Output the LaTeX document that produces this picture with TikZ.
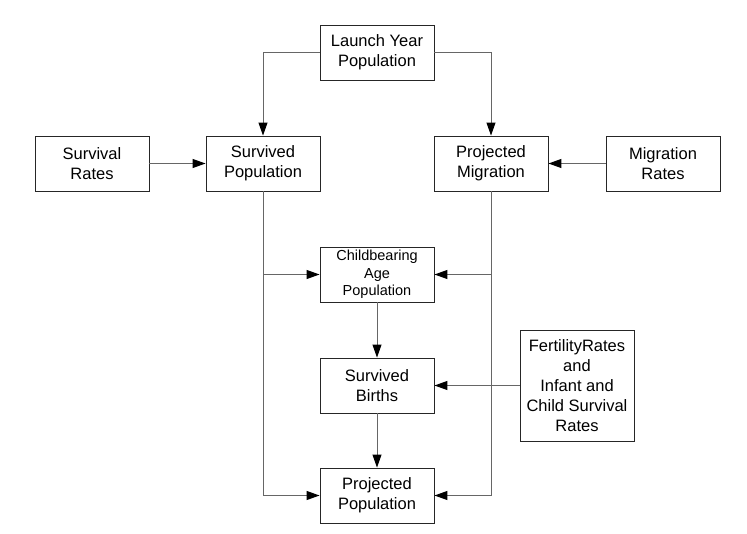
\documentclass[tikz,border=0pt]{standalone}
\usepackage{fontspec}
\setmainfont{Liberation Sans}
\usetikzlibrary{arrows.meta}
\begin{document}
\begin{tikzpicture}[x=1pt,y=-1pt,
  box/.style={draw=black!85,line width=0.9pt,minimum width=114pt,minimum height=55pt,inner sep=0pt,align=center,font=\fontsize{16.5}{20}\selectfont},
  arr/.style={draw=black!60,line width=1pt,-{Triangle[length=13pt,width=9pt,fill=black,color=black]}}]
\useasboundingbox (0,0) rectangle (747,533);
\node[box] (launch) at (377,52.5) {Launch Year\\Population};
\node[box] (survr) at (92,163.5) {Survival\\Rates};
\node[box] (survp) at (263,163.5) {Survived\\Population};
\node[box] (projm) at (491,163.5) {Projected\\Migration};
\node[box] (migr) at (663,163.5) {Migration\\Rates};
\node[box,font=\fontsize{14.5}{17.5}\selectfont] (child) at (377,274.5) {Childbearing\\Age\\Population};
\node[box] (births) at (377,385.5) {Survived\\Births};
\node[box] (projp) at (377,495.5) {Projected\\Population};
\node[box,minimum height=111pt] (fert) at (577,385.5) {FertilityRates\\and\\Infant and\\Child Survival\\Rates};
\draw[arr] (launch.west) -| (survp.north);
\draw[arr] (launch.east) -| (projm.north);
\draw[arr] (survr.east) -- (survp.west);
\draw[arr] (migr.west) -- (projm.east);
\draw[arr] (survp.south) |- (projp.west);
\draw[arr] (survp.south |- child.west) -- (child.west);
\draw[arr] (projm.south) |- (projp.east);
\draw[arr] (projm.south |- child.east) -- (child.east);
\draw[arr] (child.south) -- (births.north);
\draw[arr] (births.south) -- (projp.north);
\draw[arr] (fert.west) -- (births.east);
\end{tikzpicture}
\end{document}
